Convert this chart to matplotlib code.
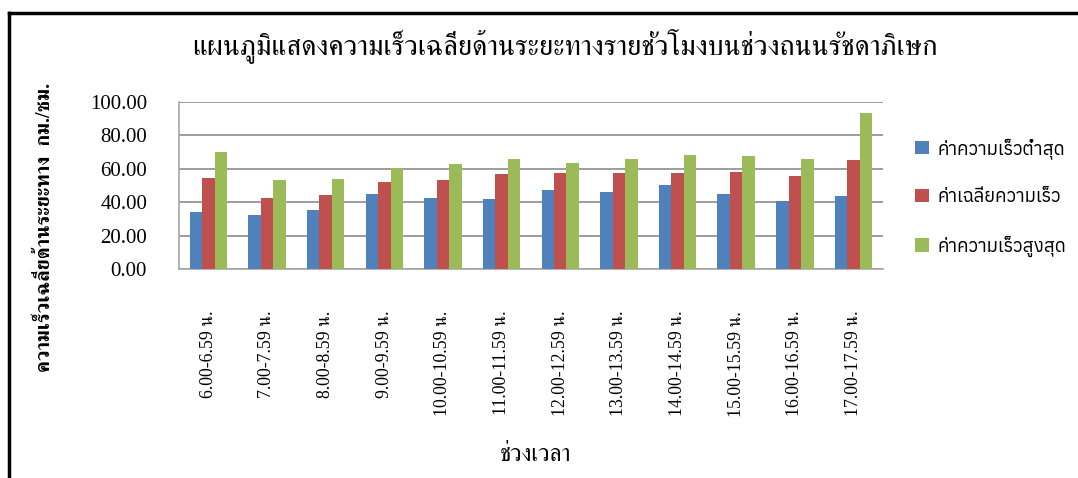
import matplotlib
matplotlib.use("Agg")
import matplotlib.pyplot as plt
from matplotlib import font_manager
from matplotlib.ft2font import FT2Font
import numpy as np

categories = ["6.00-6.59 น.", "7.00-7.59 น.", "8.00-8.59 น.", "9.00-9.59 น.",
              "10.00-10.59 น.", "11.00-11.59 น.", "12.00-12.59 น.", "13.00-13.59 น.",
              "14.00-14.59 น.", "15.00-15.59 น.", "16.00-16.59 น.", "17.00-17.59 น."]
min_speed = [34.4, 32.2, 35.2, 44.9, 42.7, 41.9, 47.3, 46.1, 50.1, 44.9, 41.0, 43.7]
avg_speed = [54.7, 42.7, 44.3, 51.9, 53.1, 56.9, 57.5, 57.5, 57.5, 58.1, 55.9, 65.0]
max_speed = [70.2, 53.1, 54.1, 60.4, 62.8, 66.0, 63.4, 66.0, 68.4, 67.8, 66.0, 93.6]
series_names = ["ค่าความเร็วต่ำสุด", "ค่าเฉลี่ยความเร็ว", "ค่าความเร็วสูงสุด"]
title = "แผนภูมิแสดงความเร็วเฉลี่ยด้านระยะทางรายชั่วโมงบนช่วงถนนรัชดาภิเษก"
xlabel = "ช่วงเวลา"
ylabel = "ความเร็วเฉลี่ยด้านระยะทาง  กม./ชม."

# find fonts with Thai glyphs
thai = []
for f in font_manager.fontManager.ttflist:
    try:
        cm = FT2Font(f.fname).get_charmap()
        if 0x0E01 in cm and 0x0E40 in cm:
            thai.append(f.name)
    except Exception:
        pass
thai = sorted(set(thai))
serif_fams = [n for n in thai if "Serif" in n or "Norasi" in n or "Kinnari" in n]
sans_fams = [n for n in thai if n not in serif_fams]
serif = ["Liberation Serif"] + serif_fams + sans_fams + ["DejaVu Serif"]
sans = sans_fams + serif_fams + ["DejaVu Sans"]

fig = plt.figure(figsize=(10.78, 4.78), dpi=100)
ax = fig.add_axes([0.166, 0.437, 0.653, 0.350])

x = np.arange(len(categories))
w = 0.213
colors = ["#4F81BD", "#C0504D", "#9BBB59"]
for i, (vals, c, n) in enumerate(zip([min_speed, avg_speed, max_speed], colors, series_names)):
    ax.bar(x + (i - 1) * w, vals, width=w, color=c, label=n, zorder=3)

ax.set_xlim(-0.5, len(categories) - 0.5)
ax.set_ylim(0, 100)
ax.set_yticks(np.arange(0, 101, 20))
ax.set_yticklabels([f"{v:.2f}" for v in np.arange(0, 101, 20)], family=serif, fontsize=15)
ax.set_xticks(x)
ax.set_xticklabels(categories, rotation=90, family=serif, fontsize=12.8, va="top")
ax.tick_params(axis="x", length=0, pad=30)
ax.tick_params(axis="y", length=0, pad=23)
ax.grid(axis="y", color="#8C8C8C", linewidth=1.2, zorder=0)
for s in ["top", "right"]:
    ax.spines[s].set_visible(False)
ax.spines["left"].set_color("#A6A6A6")
ax.spines["bottom"].set_color("#A6A6A6")
ax.spines["left"].set_linewidth(1.2)
ax.spines["bottom"].set_linewidth(1.2)

fig.text(0.524, 0.905, title, ha="center", va="center", family=serif, fontsize=20.5)
fig.text(0.497, 0.048, xlabel, ha="center", va="center", family=serif, fontsize=17)
fig.text(0.042, 0.525, ylabel, ha="center", va="center", rotation=90, family=serif,
         fontsize=14.5, fontweight="bold")

leg = ax.legend(loc="center left", bbox_to_anchor=(1.045, 0.43), frameon=False,
                prop={"family": sans, "size": 13.4}, labelspacing=1.58, handlelength=0.75,
                handleheight=0.75, handletextpad=0.5, borderpad=0, borderaxespad=0)

# border frame
fig.add_artist(plt.Line2D([0.0083, 0.0083], [0.0, 0.972], color="black", lw=2.5, transform=fig.transFigure))
fig.add_artist(plt.Line2D([0.0083, 1.0], [0.972, 0.972], color="black", lw=2.5, transform=fig.transFigure))

fig.savefig("out.png", dpi=100)
